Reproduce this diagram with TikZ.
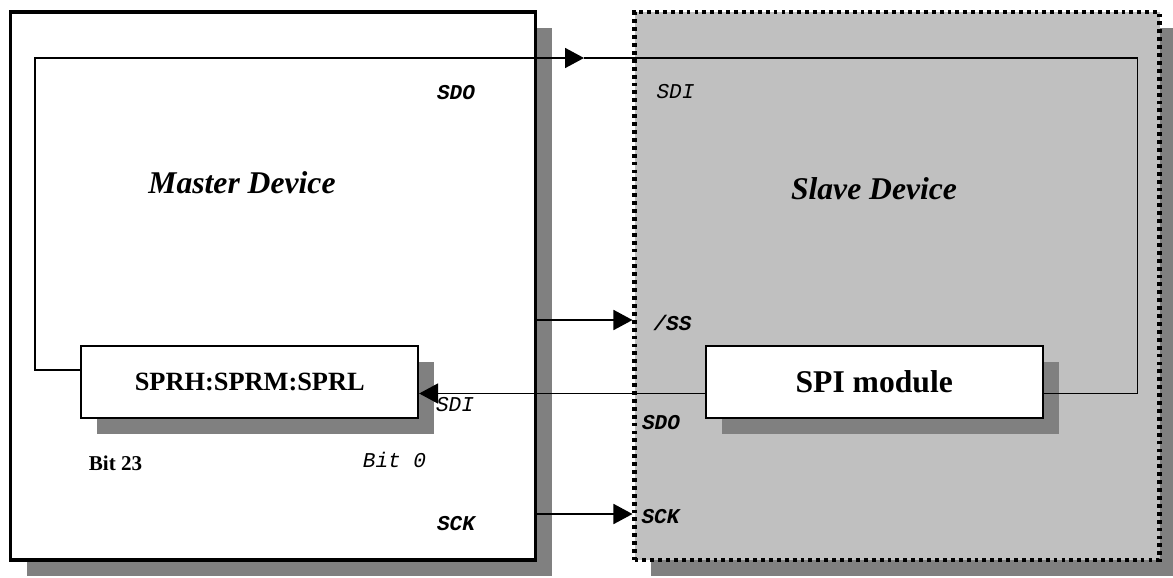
\documentclass[tikz,border=0pt]{standalone}
\usepackage{fontspec}
\setmainfont{Liberation Serif}
\setmonofont{Liberation Mono}
\usetikzlibrary{arrows.meta, shadows}

\definecolor{slavegray}{RGB}{192,192,192}
\definecolor{shadegray}{RGB}{128,128,128}

\tikzset{
  boxshadow/.style={drop shadow={shadow xshift=0.32cm, shadow yshift=-0.32cm, fill=shadegray, opacity=1}},
  device/.style={rectangle, minimum width=10.5cm, minimum height=10.96cm, boxshadow},
  reg/.style={rectangle, draw, line width=1pt, fill=white, minimum width=6.74cm, minimum height=1.44cm, boxshadow},
  title/.style={font=\bfseries\itshape\fontsize{18}{22}\selectfont},
  sig/.style={font=\ttfamily\bfseries\itshape\fontsize{12}{14}\selectfont},
  wire/.style={line width=1pt},
  >={Triangle[length=0.38cm, width=0.4cm]},
}

\begin{document}
\begin{tikzpicture}

\useasboundingbox (0,0) rectangle (23.46,-11.54);

% Define nodes
\path (5.46,-5.72)
node[device, draw, line width=2pt, fill=white] (master) {}
(master) +(12.48,0) node[device, draw, line width=2.3pt, dash pattern=on 2.2pt off 2.3pt, fill=slavegray] (slave) {}
(master) +(-0.465,-1.92) node[reg, font=\bfseries\fontsize{15}{18}\selectfont] (sprh) {SPRH:SPRM:SPRL}
(slave) +(-0.455,-1.92) node[reg, font=\bfseries\fontsize{18}{22}\selectfont] (spi) {SPI module}
(master) +(-0.62,2.06) node[title] (mtitle) {Master Device}
(slave) +(-0.46,1.95) node[title] (stitle) {Slave Device}
(0.70,-1.16) coordinate (tl)
(22.75,-1.16) coordinate (tr)
(11.68,-1.16) coordinate (sditip)
(slave.west) +(0,-0.68) coordinate (ss)
(slave.west) +(0,-4.56) coordinate (sck)
;

% Wires
\draw[wire, ->] ([yshift=0.24cm]sprh.west) -| (tl) -- (sditip);
\draw[wire] (sditip) -- (tr) |- ([yshift=-0.23cm]spi.east);
\draw[wire, ->] ([yshift=-0.23cm]spi.west) -- ([yshift=-0.23cm]sprh.east);
\draw[wire, ->] (master.east |- ss) -- (ss);
\draw[wire, ->] (master.east |- sck) -- (sck);

% Pin labels
\path
(9.12,-1.85) node[sig] (msdo) {SDO}
(9.10,-8.09) node[sig, font=\ttfamily\itshape\fontsize{12}{14}\selectfont] (msdi) {SDI}
(9.12,-10.47) node[sig] (msck) {SCK}
(13.51,-1.83) node[sig, font=\ttfamily\itshape\fontsize{12}{14}\selectfont] (ssdi) {SDI}
(13.45,-6.46) node[sig] (sss) {/SS}
(13.22,-8.45) node[sig] (ssdo) {SDO}
(13.21,-10.34) node[sig] (ssck) {SCK}
(7.89,-9.19) node[sig, font=\ttfamily\itshape\fontsize{12}{14}\selectfont] (bitlo) {Bit 0}
(2.31,-9.26) node[font=\bfseries\fontsize{12}{14}\selectfont] (bithi) {Bit 23}
;

\end{tikzpicture}
\end{document}
